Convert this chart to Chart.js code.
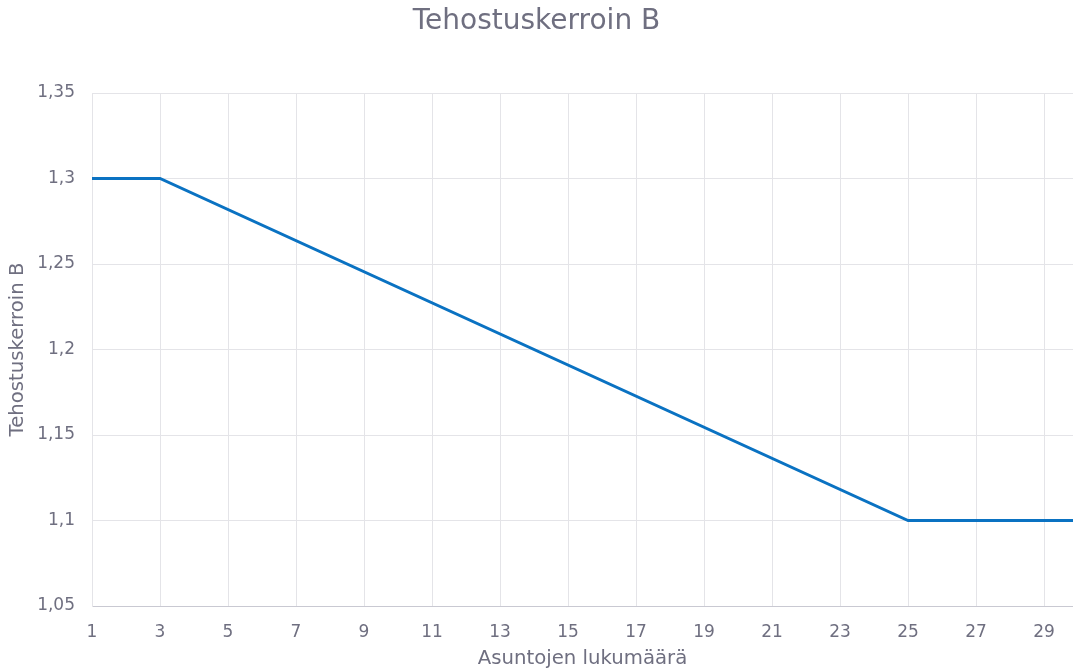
<!DOCTYPE html>
<html>
<head>
<meta charset="utf-8">
<script src="https://cdn.jsdelivr.net/npm/chart.js@4"></script>
<style>
  body { margin: 0; background: #fff; }
  #wrap { width: 1073px; height: 671px; position: relative; }
</style>
</head>
<body>
<div id="wrap"><canvas id="chartCanvas"></canvas></div>
<script>
// breakpoints of the line
var apartments = [1, 3, 25, 30];
var factorB = [1.3, 1.3, 1.1, 1.1];
var xTicks = [1, 3, 5, 7, 9, 11, 13, 15, 17, 19, 21, 23, 25, 27, 29];
var yTicks = [1.05, 1.1, 1.15, 1.2, 1.25, 1.3, 1.35];

var textColor = '#6f6f80';
var gridColor = '#e4e4e8';

function fmtComma(v) {
    return (Math.round(v * 100) / 100).toString().replace('.', ',');
}

var ctx = document.getElementById('chartCanvas').getContext('2d');
var myChart = new Chart(ctx, {
    type: 'line',
    data: {
        datasets: [{
            label: 'Tehostuskerroin B',
            data: apartments.map((x, i) => ({ x: x, y: factorB[i] })),
            borderColor: '#0a72c2',
            borderWidth: 3,
            pointRadius: 0,
            tension: 0
        }]
    },
    options: {
        responsive: true,
        maintainAspectRatio: false,
        animation: false,
        layout: { padding: 0 },
        plugins: {
            legend: { display: false },
            tooltip: { enabled: false },
            title: {
                display: true,
                text: 'Tehostuskerroin B',
                color: textColor,
                font: { family: 'DejaVu Sans', size: 28, weight: 'normal' },
                padding: { top: 5, bottom: 54.4 }
            }
        },
        scales: {
            x: {
                type: 'linear',
                min: 1,
                max: 29.85,
                afterBuildTicks: function (scale) {
                    scale.ticks = xTicks.map(v => ({ value: v }));
                },
                afterFit: function (scale) { scale.height = 65; },
                grid: { color: gridColor, drawTicks: false },
                border: { color: '#c9c9d2', width: 1 },
                ticks: {
                    color: textColor,
                    font: { family: 'DejaVu Sans', size: 17 },
                    padding: 16,
                    maxRotation: 0
                },
                title: {
                    display: true,
                    text: 'Asuntojen lukumäärä',
                    color: textColor,
                    font: { family: 'DejaVu Sans', size: 19.7 },
                    padding: { top: 0, bottom: 0 }
                }
            },
            y: {
                type: 'linear',
                min: 1.05,
                max: 1.35,
                afterBuildTicks: function (scale) {
                    scale.ticks = yTicks.map(v => ({ value: v }));
                },
                afterFit: function (scale) { scale.width = 92; },
                grid: { color: gridColor, drawTicks: false },
                border: { color: gridColor },
                ticks: {
                    color: textColor,
                    font: { family: 'DejaVu Sans', size: 17 },
                    padding: 17,
                    callback: function (v) { return fmtComma(v); }
                },
                title: {
                    display: true,
                    text: 'Tehostuskerroin B',
                    color: textColor,
                    font: { family: 'DejaVu Sans', size: 19.7 },
                    padding: { top: 6, bottom: 0 }
                }
            }
        }
    }
});
</script>
</body>
</html>
